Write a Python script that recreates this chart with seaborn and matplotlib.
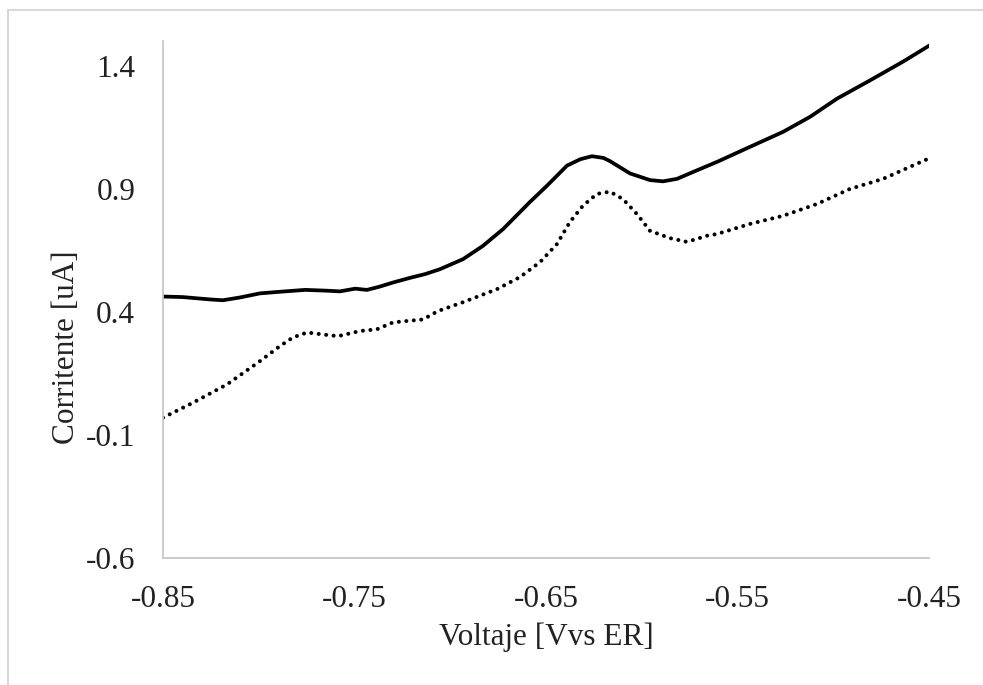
import numpy as np
import pandas as pd
import matplotlib
matplotlib.use("Agg")
import matplotlib.pyplot as plt
import seaborn as sns
from matplotlib.patches import Rectangle

# Solid curve
volt_solid = [-0.850, -0.8400, -0.8250, -0.8187, -0.8100, -0.7993, -0.7880, -0.7758,
              -0.7650, -0.7576, -0.7497, -0.7435, -0.7370, -0.7299,
              -0.7200, -0.7132, -0.7054, -0.6933, -0.6829, -0.6724, -0.6584, -0.6495,
              -0.6390, -0.6320, -0.6260, -0.6200, -0.6166, -0.6061, -0.5957, -0.5889,
              -0.5816, -0.5732, -0.5607, -0.5435, -0.5262, -0.5121, -0.4980, -0.4808,
              -0.4636, -0.4495]
curr_solid = [0.462, 0.460, 0.450, 0.447, 0.458, 0.475, 0.482, 0.489,
              0.486, 0.483, 0.494, 0.489, 0.502, 0.519,
              0.540, 0.553, 0.573, 0.614, 0.668, 0.736, 0.846, 0.912,
              0.994, 1.020, 1.032, 1.025, 1.012, 0.962, 0.935, 0.930,
              0.940, 0.968, 1.009, 1.070, 1.131, 1.192, 1.266, 1.340,
              1.416, 1.483]

# Dotted curve
volt_dot = [-0.850, -0.8343, -0.8166, -0.7993, -0.7889, -0.7821, -0.7748, -0.7664,
            -0.7586, -0.7471, -0.7383, -0.7299, -0.7142, -0.7064, -0.6933, -0.6756,
            -0.6636, -0.6531, -0.6443, -0.6375, -0.6307, -0.6234, -0.6166, -0.6098,
            -0.6025, -0.5957, -0.5852, -0.5764, -0.5659, -0.5607, -0.5435, -0.5262,
            -0.5085, -0.4913, -0.4740, -0.4599, -0.4495]
curr_dot = [-0.030, 0.031, 0.105, 0.200, 0.261, 0.296, 0.316, 0.308,
            0.301, 0.322, 0.329, 0.357, 0.369, 0.403, 0.439, 0.492,
            0.541, 0.602, 0.675, 0.765, 0.831, 0.879, 0.888, 0.858,
            0.797, 0.729, 0.699, 0.684, 0.709, 0.716, 0.757, 0.790,
            0.838, 0.899, 0.940, 0.989, 1.025]

x_ticks = [-0.85, -0.75, -0.65, -0.55, -0.45]
y_ticks = [-0.6, -0.1, 0.4, 0.9, 1.4]
x_label = "Voltaje [Vvs ER]"
y_label = "Corritente [uA]"

sns.set_theme(style="white")
plt.rcParams['font.family'] = ['Liberation Serif', 'DejaVu Serif']

W, H = 983, 685
L, R, T, B = 163, 929, 41, 558
fig = plt.figure(figsize=(W / 100, H / 100), dpi=100)
fig.patch.set_facecolor("white")
ax = fig.add_axes([L / W, 1 - B / H, (R - L) / W, (B - T) / H])

sns.lineplot(x=volt_solid, y=curr_solid, ax=ax, color="black", linewidth=2.7,
             sort=False, estimator=None)
sns.lineplot(x=volt_dot, y=curr_dot, ax=ax, color="black", linewidth=2.9,
             sort=False, estimator=None, linestyle=(0, (0.01, 1.85)),
             dash_capstyle="round")

ax.set_xlim(-0.85, -0.45)
ax.set_ylim(-0.6, 1.5)
ax.set_xticks(x_ticks)
ax.set_yticks(y_ticks)
ax.set_xticklabels([f"{v:.2f}" for v in x_ticks])
ax.set_yticklabels([f"{v:.1f}" for v in y_ticks])
ax.tick_params(axis="both", length=0, labelsize=22.5, colors="#222222")
ax.tick_params(axis="x", pad=19.5)
ax.tick_params(axis="y", pad=20)
for s in ["top", "right"]:
    ax.spines[s].set_visible(False)
for s in ["left", "bottom"]:
    ax.spines[s].set_color("#c8c8c8")
    ax.spines[s].set_linewidth(1.3)
ax.grid(False)
ax.set_facecolor("white")

ax.set_xlabel(x_label, fontsize=22.5, color="#222222")
ax.set_ylabel(y_label, fontsize=22.5, color="#222222")
ax.xaxis.set_label_coords(0.5, (B - 623) / (B - T))
ax.yaxis.set_label_coords((81 - L) / (R - L), (B - 347) / (B - T))

# outer chart border (left and top visible)
fig.add_artist(Rectangle((8 / W, -0.5), 2.0, 1.5 - 10 / H, transform=fig.transFigure,
                         fill=False, edgecolor="#d9d9d9", linewidth=1.5))

fig.savefig("out.png", dpi=100, facecolor="white")
